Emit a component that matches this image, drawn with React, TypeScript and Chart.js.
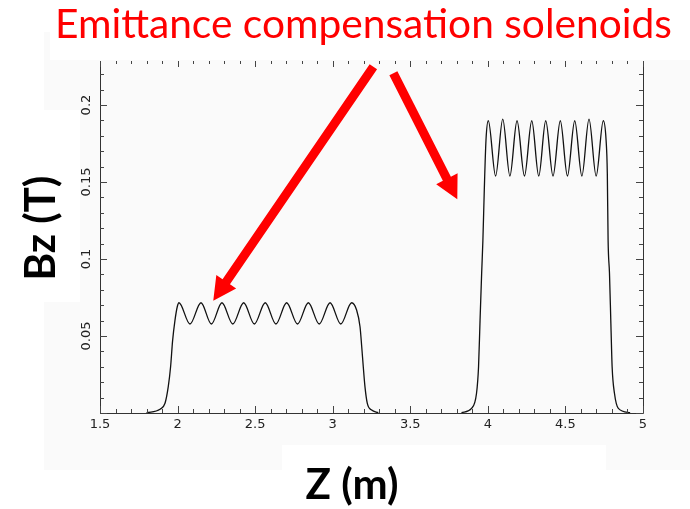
import { useEffect, useRef } from 'react';
import { Chart, registerables } from 'chart.js';

Chart.register(...registerables);

// Text
const chartTitle = 'Emittance compensation solenoids';
const xTitle = 'Z (m)';
const yTitle = 'Bz (T)';

// Axis ticks
const xTicks = [1.5, 2, 2.5, 3, 3.5, 4, 4.5, 5];
const xTickLabels = ['1.5', '2', '2.5', '3', '3.5', '4', '4.5', '5'];
const yTicks = [0.05, 0.1, 0.15, 0.2];
const yTickLabels = ['0.05', '0.1', '0.15', '0.2'];

const X_MIN = 1.5;
const X_MAX = 5;
const Y_MIN = 0;
const Y_MAX = 0.2286;
const X_MINOR_STEP = 0.1;
const Y_MINOR_STEP = 0.01;

// First (weaker) solenoid: axial field Bz [T] vs z [m]
const sol1Z = [
  1.8, 1.887, 1.919, 1.94, 1.955, 1.968, 1.983, 1.998,
  2.009, 2.08, 2.151, 2.218, 2.286, 2.356, 2.426, 2.495, 2.565, 2.634,
  2.703, 2.773, 2.843, 2.913, 2.983, 3.052, 3.122,
  3.154, 3.176, 3.187, 3.197, 3.208, 3.223, 3.251, 3.294,
];
const sol1Bz = [
  0.0002, 0.0024, 0.0063, 0.0171, 0.03, 0.047, 0.06, 0.069,
  0.0716, 0.0578, 0.0716, 0.0578, 0.0716, 0.0578, 0.0716, 0.0578, 0.0716, 0.0578,
  0.0716, 0.0578, 0.0716, 0.0578, 0.0716, 0.0578, 0.0716,
  0.0669, 0.056, 0.043, 0.03, 0.017, 0.0063, 0.0019, 0.0002,
];

// Second (stronger) solenoid
const sol2Z = [
  3.83, 3.895, 3.927, 3.94, 3.949, 3.96, 3.968, 3.977, 3.988,
  4.003, 4.05, 4.096, 4.142, 4.188, 4.236, 4.283, 4.328, 4.373, 4.42,
  4.467, 4.513, 4.56, 4.606, 4.652, 4.698, 4.744,
  4.762, 4.77, 4.775, 4.784, 4.793, 4.801, 4.816, 4.841, 4.917,
];
const sol2Bz = [
  0.0002, 0.003, 0.0128, 0.03, 0.058, 0.0907, 0.112, 0.1448, 0.1773,
  0.1898, 0.1539, 0.1909, 0.1539, 0.1898, 0.1539, 0.1898, 0.1539, 0.1898, 0.1539,
  0.1898, 0.1539, 0.1898, 0.1539, 0.1909, 0.1539, 0.1898,
  0.1773, 0.1556, 0.1123, 0.0907, 0.058, 0.03, 0.0128, 0.003, 0.0002,
];

// Callout arrows, in data coordinates (tail -> tip)
const arrowTailZ = [3.262, 3.391];
const arrowTailBz = [0.2249, 0.2206];
const arrowTipZ = [2.23, 3.803];
const arrowTipBz = [0.0729, 0.1388];

const RED = '#ff0000';

function drawArrow(ctx: CanvasRenderingContext2D, x0: number, y0: number, x1: number, y1: number) {
  const shaft = 9;
  const headLen = 23;
  const headHalf = 12;
  const dx = x1 - x0;
  const dy = y1 - y0;
  const len = Math.hypot(dx, dy);
  const ux = dx / len;
  const uy = dy / len;
  const nx = -uy;
  const ny = ux;
  const bx = x1 - ux * headLen;
  const by = y1 - uy * headLen;
  ctx.beginPath();
  ctx.moveTo(x0 + nx * shaft / 2, y0 + ny * shaft / 2);
  ctx.lineTo(bx + nx * shaft / 2, by + ny * shaft / 2);
  ctx.lineTo(bx + nx * headHalf, by + ny * headHalf);
  ctx.lineTo(x1, y1);
  ctx.lineTo(bx - nx * headHalf, by - ny * headHalf);
  ctx.lineTo(bx - nx * shaft / 2, by - ny * shaft / 2);
  ctx.lineTo(x0 - nx * shaft / 2, y0 - ny * shaft / 2);
  ctx.closePath();
  ctx.fill();
}

const decorPlugin = {
  id: 'decor',
  beforeDraw(chart: any) {
    const ctx: CanvasRenderingContext2D = chart.ctx;
    const { width, height } = chart;
    ctx.save();
    ctx.fillStyle = '#ffffff';
    ctx.fillRect(0, 0, width, height);
    // framed plot panel
    ctx.fillStyle = '#fafafa';
    ctx.fillRect(44, 32, width - 44, 470 - 32);
    // white label boxes over the panel
    ctx.fillStyle = '#ffffff';
    ctx.fillRect(50, 0, width - 50, 60);
    ctx.fillRect(0, 110, 80, 192);
    ctx.fillRect(282, 445, 324, height - 445);
    ctx.restore();
  },
  afterDraw(chart: any) {
    const ctx: CanvasRenderingContext2D = chart.ctx;
    const xs = chart.scales.x;
    const ys = chart.scales.y;
    const { left, right, top, bottom } = chart.chartArea;
    ctx.save();

    // axis frame: left, right, bottom (top carries ticks only)
    ctx.strokeStyle = '#333333';
    ctx.lineWidth = 1;
    ctx.beginPath();
    ctx.moveTo(left + 0.5, top);
    ctx.lineTo(left + 0.5, bottom + 0.5);
    ctx.lineTo(right + 0.5, bottom + 0.5);
    ctx.lineTo(right + 0.5, top);
    ctx.stroke();

    // inward tick marks
    ctx.strokeStyle = '#444444';
    ctx.beginPath();
    const nx = Math.round((X_MAX - X_MIN) / X_MINOR_STEP);
    for (let i = 0; i <= nx; i++) {
      const px = Math.round(xs.getPixelForValue(X_MIN + i * X_MINOR_STEP)) + 0.5;
      const major = i % 5 === 0;
      const len = major ? 7 : 4;
      ctx.moveTo(px, bottom);
      ctx.lineTo(px, bottom - len);
      ctx.moveTo(px, top);
      ctx.lineTo(px, top + (major ? 6 : 3));
    }
    const ny = Math.floor((Y_MAX - Y_MIN) / Y_MINOR_STEP + 1e-6);
    for (let i = 0; i <= ny; i++) {
      const py = Math.round(ys.getPixelForValue(Y_MIN + i * Y_MINOR_STEP)) + 0.5;
      const major = i % 5 === 0;
      const len = major ? 7 : 4;
      ctx.moveTo(left, py);
      ctx.lineTo(left + len, py);
      ctx.moveTo(right, py);
      ctx.lineTo(right - len, py);
    }
    ctx.stroke();

    // tick labels
    ctx.fillStyle = '#222222';
    ctx.font = '13px "DejaVu Sans"';
    ctx.textAlign = 'center';
    ctx.textBaseline = 'middle';
    xTicks.forEach((v, i) => {
      ctx.fillText(xTickLabels[i], xs.getPixelForValue(v), bottom + 12);
    });
    yTicks.forEach((v, i) => {
      ctx.save();
      ctx.translate(left - 13, ys.getPixelForValue(v));
      ctx.rotate(-Math.PI / 2);
      ctx.fillText(yTickLabels[i], 0, 0);
      ctx.restore();
    });

    // axis titles
    ctx.fillStyle = '#000000';
    ctx.font = 'bold 42px Lato';
    ctx.textAlign = 'center';
    ctx.textBaseline = 'alphabetic';
    ctx.fillText(xTitle, 352, 499);
    ctx.save();
    ctx.translate(55, 228);
    ctx.rotate(-Math.PI / 2);
    ctx.fillText(yTitle, 0, 0);
    ctx.restore();

    // chart title, fitted to its banner width
    ctx.fillStyle = RED;
    let size = 36;
    ctx.font = `${size}px Lato`;
    const w = ctx.measureText(chartTitle).width;
    size = size * 617 / w;
    ctx.font = `${size}px Lato`;
    ctx.textAlign = 'left';
    ctx.fillText(chartTitle, 55, 38);

    // callout arrows
    ctx.fillStyle = RED;
    arrowTailZ.forEach((_, i) => {
      drawArrow(
        ctx,
        xs.getPixelForValue(arrowTailZ[i]),
        ys.getPixelForValue(arrowTailBz[i]),
        xs.getPixelForValue(arrowTipZ[i]),
        ys.getPixelForValue(arrowTipBz[i]),
      );
    });

    ctx.restore();
  },
};

export default function App() {
  const canvasRef = useRef<HTMLCanvasElement | null>(null);

  useEffect(() => {
    document.body.style.margin = '0';
    const canvas = canvasRef.current;
    if (!canvas) return;
    const toPoints = (zs: number[], bs: number[]) => zs.map((z, i) => ({ x: z, y: bs[i] }));
    const lineStyle = {
      borderColor: '#111111',
      borderWidth: 1.3,
      pointRadius: 0,
      fill: false,
      cubicInterpolationMode: 'monotone' as const,
    };
    const chart = new Chart(canvas, {
      type: 'line',
      data: {
        datasets: [
          { label: 'Solenoid 1', data: toPoints(sol1Z, sol1Bz), ...lineStyle },
          { label: 'Solenoid 2', data: toPoints(sol2Z, sol2Bz), ...lineStyle },
        ],
      },
      options: {
        responsive: false,
        animation: false,
        devicePixelRatio: 1,
        layout: { padding: { left: 100, right: 47, top: 61, bottom: 96 } },
        plugins: {
          legend: { display: false },
          tooltip: { enabled: false },
        },
        scales: {
          x: { type: 'linear', min: X_MIN, max: X_MAX, display: false },
          y: { type: 'linear', min: Y_MIN, max: Y_MAX, display: false },
        },
      },
      plugins: [decorPlugin],
    });
    return () => chart.destroy();
  }, []);

  return (
    <div style={{ position: 'absolute', left: 0, top: 0, width: 690, height: 509 }}>
      <canvas ref={canvasRef} width={690} height={509} />
    </div>
  );
}
